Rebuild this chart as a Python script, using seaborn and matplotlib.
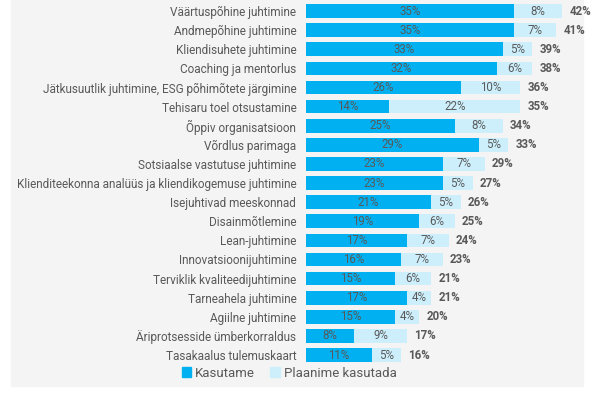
import pandas as pd
import matplotlib.pyplot as plt
import seaborn as sns
from matplotlib.patches import Rectangle, Patch

categories = [
    "Väärtuspõhine juhtimine",
    "Andmepõhine juhtimine",
    "Kliendisuhete juhtimine",
    "Coaching ja mentorlus",
    "Jätkusuutlik juhtimine, ESG põhimõtete järgimine",
    "Tehisaru toel otsustamine",
    "Õppiv organisatsioon",
    "Võrdlus parimaga",
    "Sotsiaalse vastutuse juhtimine",
    "Klienditeekonna analüüs ja kliendikogemuse juhtimine",
    "Isejuhtivad meeskonnad",
    "Disainmõtlemine",
    "Lean-juhtimine",
    "Innovatsioonijuhtimine",
    "Terviklik kvaliteedijuhtimine",
    "Tarneahela juhtimine",
    "Agiilne juhtimine",
    "Äriprotsesside ümberkorraldus",
    "Tasakaalus tulemuskaart",
]
kasutame = [35, 35, 33, 32, 26, 14, 25, 29, 23, 23, 21, 19, 17, 16, 15, 17, 15, 8, 11]
plaanime = [8, 7, 5, 6, 10, 22, 8, 5, 7, 5, 5, 6, 7, 7, 6, 4, 4, 9, 5]
kokku = [42, 41, 39, 38, 36, 35, 34, 33, 29, 27, 26, 25, 24, 23, 21, 21, 20, 17, 16]

dark = "#00B0F0"
light = "#CDEFFC"
grey_txt = "#595959"

df = pd.DataFrame({"cat": categories, "use": kasutame, "plan": plaanime, "total": kokku})
df["stack"] = df["use"] + df["plan"]

plt.rcParams["font.family"] = ["Roboto", "DejaVu Sans"]

fig = plt.figure(figsize=(6, 4.19), dpi=100)
# light grey panel behind the chart
fig.patches.append(Rectangle((11 / 600, 1 - 386 / 419), 572 / 600, 386 / 419,
                             transform=fig.transFigure, color="#F4F4F4", zorder=-10))
ax = fig.add_axes([306 / 600, 1 - 364.6 / 419, 268 / 600, 363.1 / 419])
ax.set_facecolor("none")

sns.barplot(data=df, y="cat", x="stack", color=light, orient="h", width=0.72,
            saturation=1, ax=ax)
sns.barplot(data=df, y="cat", x="use", color=dark, orient="h", width=0.72,
            saturation=1, ax=ax)

for i, r in df.iterrows():
    ax.text(r["use"] / 2, i, f"{r['use']}%", ha="center", va="center",
            fontsize=8.3, color=grey_txt)
    ax.text(r["use"] + r["plan"] / 2, i, f"{r['plan']}%", ha="center", va="center",
            fontsize=8.3, color=grey_txt)
    ax.text(r["stack"] + 1.2, i, f"{r['total']}%", ha="left", va="center",
            fontsize=8.3, color=grey_txt, fontweight="bold")

ax.set_xlim(0, 45)
ax.set_ylim(18.5, -0.5)
ax.set_xlabel("")
ax.set_ylabel("")
ax.set_xticks([])
ax.tick_params(axis="y", length=0, pad=7, labelsize=8.5, labelcolor=grey_txt)
for s in ax.spines.values():
    s.set_visible(False)

handles = [Patch(color=dark, label="Kasutame"), Patch(color=light, label="Plaanime kasutada")]
fig.legend(handles=handles, loc="center", bbox_to_anchor=(289 / 600, 1 - 373 / 419),
           ncol=2, frameon=False, fontsize=9.5, handlelength=0.7, handleheight=0.7,
           handletextpad=0.3, columnspacing=1.2, labelcolor=grey_txt)

fig.savefig("out.png", dpi=100)
